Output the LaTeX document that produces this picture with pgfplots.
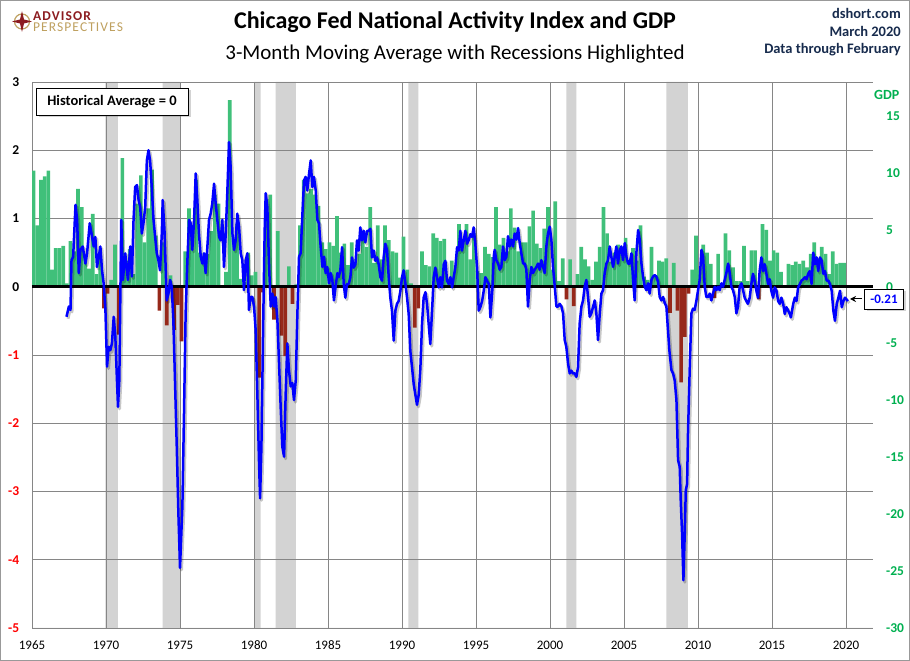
\documentclass[border=0pt]{standalone}
\usepackage{pgfplots}
\pgfplotsset{compat=1.18}
\usepackage{pgfplotstable}
\usepackage{fontspec}
\setmainfont{Carlito}
\usetikzlibrary{shadows,arrows.meta}

\definecolor{bargreen}{RGB}{64,192,122}
\definecolor{barred}{RGB}{150,40,26}
\definecolor{recgray}{RGB}{211,211,211}
\definecolor{gridgray}{RGB}{134,134,134}
\definecolor{gdptext}{RGB}{0,176,80}
\definecolor{navy}{RGB}{23,43,77}
\definecolor{apred}{RGB}{140,28,32}
\definecolor{apgold}{RGB}{190,160,95}

\pgfplotstableread{
yr q1 q2 q3 q4
1965 10.2 5.4 9.4 9.7
1966 10.2 1.5 3.4 3.4
1967 3.6 0.3 4.0 3.1
1968 8.6 7.0 2.7 1.6
1969 6.4 1.1 2.5 -1.9
1970 -0.6 0.6 3.7 -4.2
1971 11.3 2.3 3.3 1.1
1972 7.3 9.8 3.9 6.9
1973 10.3 4.5 -2.1 3.9
1974 -3.4 1.0 -3.8 -1.6
1975 -4.8 3.1 6.9 5.4
1976 9.4 3.0 2.1 2.9
1977 4.9 8.1 7.3 0.0
1978 1.3 16.4 4.1 5.5
1979 0.7 0.4 3.0 1.0
1980 1.3 -8.0 -0.5 7.7
1981 8.1 -2.9 4.9 -4.3
1982 -6.1 1.8 -1.5 0.2
1983 5.4 9.4 8.2 8.6
1984 8.1 7.1 3.9 3.3
1985 3.9 3.6 6.2 3.0
1986 3.8 1.9 3.9 2.1
1987 2.9 4.5 3.5 7.0
1988 2.1 5.4 2.4 5.4
1989 4.1 3.1 3.0 0.8
1990 4.4 1.5 0.3 -3.6
1991 -1.9 3.1 1.9 1.8
1992 4.7 4.3 4.0 4.2
1993 0.7 2.3 1.9 5.5
1994 4.0 5.5 2.4 4.7
1995 1.4 1.2 3.5 2.9
1996 2.6 7.0 3.7 4.3
1997 3.1 6.9 5.2 3.1
1998 3.9 3.9 5.3 6.7
1999 3.8 3.4 5.1 7.0
2000 1.5 7.5 0.5 2.5
2001 -1.1 2.4 -1.7 1.1
2002 3.5 2.4 1.8 0.6
2003 2.2 3.5 7.0 4.7
2004 2.2 3.0 3.7 3.5
2005 4.3 2.1 3.4 2.3
2006 5.4 0.9 0.6 3.5
2007 0.9 2.3 2.2 2.5
2008 -2.3 2.1 -2.1 -8.4
2009 -4.4 -0.6 1.5 4.5
2010 1.5 3.7 3.0 2.0
2011 -1.0 2.9 -0.1 4.7
2012 3.2 1.7 0.5 0.5
2013 3.6 0.5 3.2 3.2
2014 -1.1 5.5 5.0 2.3
2015 3.2 3.0 1.3 0.1
2016 2.0 1.9 2.2 2.0
2017 2.3 1.7 2.9 3.9
2018 2.5 3.5 2.9 1.1
2019 3.1 2.0 2.1 2.1
}\gdptable

\pgfplotstableread{
x y
1967.33 -0.44
1967.49 -0.29
1967.60 -0.34
1967.67 0.39
1967.78 0.44
1967.94 1.20
1968.05 0.98
1968.16 0.20
1968.27 0.54
1968.43 0.59
1968.61 0.34
1968.72 0.49
1968.90 0.93
1969.06 0.73
1969.17 0.59
1969.28 0.73
1969.39 0.29
1969.51 0.44
1969.62 0.59
1969.73 0.24
1969.84 0.05
1969.96 -0.34
1970.07 -1.17
1970.18 -0.88
1970.29 -0.93
1970.40 -0.83
1970.52 -0.44
1970.63 -0.73
1970.74 -1.37
1970.81 -1.76
1970.90 -1.37
1971.03 0.98
1971.14 0.10
1971.30 0.49
1971.48 0.10
1971.64 0.59
1971.75 0.15
1971.86 0.98
1971.97 1.46
1972.09 1.49
1972.20 1.27
1972.31 1.17
1972.42 0.78
1972.53 0.93
1972.65 1.17
1972.76 1.85
1972.87 2.00
1972.98 1.85
1973.09 1.46
1973.21 0.98
1973.32 0.73
1973.43 0.49
1973.54 0.39
1973.65 0.24
1973.77 0.78
1973.83 1.27
1973.95 0.83
1974.10 -0.20
1974.22 -0.10
1974.33 0.10
1974.44 0.00
1974.55 -0.49
1974.66 -1.37
1974.78 -2.34
1974.89 -3.32
1975.00 -4.12
1975.16 -3.22
1975.27 -1.85
1975.38 -0.39
1975.50 0.39
1975.61 0.98
1975.72 0.93
1975.83 0.54
1975.95 0.98
1976.06 1.66
1976.17 1.27
1976.28 0.78
1976.40 0.44
1976.51 0.34
1976.62 0.49
1976.73 0.20
1976.85 0.59
1976.96 0.98
1977.07 1.07
1977.18 1.22
1977.30 1.51
1977.41 1.22
1977.52 0.98
1977.64 0.73
1977.75 0.68
1977.86 0.98
1977.97 0.29
1978.09 0.78
1978.20 1.41
1978.31 2.12
1978.42 1.76
1978.54 0.78
1978.65 0.54
1978.76 0.68
1978.87 1.07
1978.99 0.88
1979.10 0.49
1979.21 0.39
1979.32 -0.05
1979.44 0.39
1979.55 0.49
1979.66 -0.34
1979.77 -0.15
1979.89 -0.15
1980.00 -0.29
1980.11 -0.63
1980.23 -1.61
1980.34 -2.59
1980.41 -3.10
1980.50 -2.34
1980.63 -0.39
1980.72 0.83
1980.79 1.37
1980.90 1.17
1981.01 0.34
1981.13 -0.29
1981.24 -0.10
1981.35 -0.29
1981.46 -0.15
1981.58 -0.49
1981.69 -1.12
1981.80 -1.76
1981.91 -2.34
1982.03 -2.49
1982.14 -1.56
1982.25 -0.83
1982.36 -1.22
1982.48 -1.46
1982.59 -1.41
1982.70 -1.66
1982.82 -1.37
1982.93 -0.39
1983.04 0.44
1983.15 0.49
1983.27 1.07
1983.38 1.56
1983.49 1.61
1983.60 1.41
1983.72 1.66
1983.83 1.85
1983.94 1.46
1984.05 1.61
1984.17 1.41
1984.28 0.98
1984.39 0.93
1984.50 0.59
1984.62 0.29
1984.73 0.44
1984.84 0.20
1984.95 0.29
1985.07 0.05
1985.18 0.20
1985.29 0.10
1985.40 -0.20
1985.51 0.00
1985.63 0.20
1985.72 0.14
1985.83 0.24
1985.95 0.58
1986.06 0.04
1986.17 -0.16
1986.28 0.04
1986.40 0.04
1986.51 0.14
1986.62 0.43
1986.73 0.28
1986.85 0.33
1986.96 0.68
1987.07 0.53
1987.18 0.87
1987.30 0.68
1987.41 0.82
1987.52 0.65
1987.64 0.82
1987.75 0.82
1987.86 0.85
1987.97 0.43
1988.09 0.53
1988.20 0.38
1988.31 0.43
1988.42 0.33
1988.54 0.14
1988.65 0.09
1988.76 0.43
1988.87 0.63
1988.99 0.53
1989.10 0.14
1989.21 -0.16
1989.32 -0.35
1989.44 -0.79
1989.55 -0.35
1989.66 -0.25
1989.77 -0.21
1989.89 -0.06
1990.00 0.14
1990.11 0.24
1990.23 0.04
1990.34 -0.16
1990.45 -0.40
1990.56 -0.94
1990.68 -1.19
1990.79 -1.43
1990.90 -1.58
1991.01 -1.73
1991.13 -1.58
1991.24 -1.19
1991.35 -0.55
1991.46 -0.16
1991.58 -0.08
1991.69 -0.25
1991.80 -0.55
1991.91 -0.84
1992.03 -0.35
1992.14 0.14
1992.25 0.28
1992.36 0.14
1992.48 -0.01
1992.59 0.14
1992.70 -0.01
1992.82 0.33
1992.93 0.38
1993.04 0.09
1993.15 0.04
1993.27 0.14
1993.38 -0.01
1993.49 0.14
1993.60 0.28
1993.72 0.58
1993.83 0.53
1993.94 0.82
1994.05 0.53
1994.17 0.68
1994.28 0.82
1994.39 0.63
1994.50 0.68
1994.62 0.77
1994.73 0.73
1994.84 0.87
1994.95 0.63
1995.07 0.28
1995.18 -0.35
1995.29 -0.30
1995.41 -0.21
1995.52 -0.06
1995.63 0.14
1995.74 0.09
1995.86 0.04
1995.97 -0.45
1996.10 -0.05
1996.20 0.45
1996.26 0.54
1996.37 0.39
1996.49 0.34
1996.60 0.25
1996.71 0.29
1996.82 0.59
1996.94 0.39
1997.05 0.44
1997.16 0.74
1997.27 0.59
1997.39 0.69
1997.50 0.59
1997.61 0.78
1997.73 0.69
1997.84 0.86
1997.95 0.64
1998.06 0.49
1998.18 0.34
1998.29 0.34
1998.40 0.25
1998.51 -0.29
1998.63 0.10
1998.74 0.29
1998.85 0.20
1998.96 0.25
1999.08 0.29
1999.19 0.34
1999.30 0.25
1999.41 0.39
1999.53 0.29
1999.64 0.20
1999.75 0.59
1999.86 0.78
1999.98 0.88
2000.09 0.69
2000.20 0.29
2000.32 0.00
2000.43 -0.29
2000.54 -0.29
2000.65 -0.25
2000.77 -0.29
2000.88 -0.39
2000.99 -0.78
2001.10 -0.88
2001.22 -1.13
2001.33 -1.27
2001.44 -1.23
2001.55 -1.27
2001.67 -1.27
2001.78 -1.32
2001.89 -1.18
2002.00 -0.54
2002.12 -0.29
2002.23 -0.20
2002.34 0.00
2002.45 0.10
2002.57 -0.15
2002.68 -0.44
2002.79 -0.39
2002.91 -0.29
2003.02 -0.20
2003.13 -0.39
2003.24 -0.78
2003.36 -0.39
2003.47 -0.10
2003.58 -0.05
2003.69 0.20
2003.81 0.34
2003.92 0.39
2004.03 0.59
2004.14 0.44
2004.26 0.29
2004.37 0.44
2004.48 0.59
2004.59 0.34
2004.71 0.54
2004.82 0.59
2004.93 0.39
2005.05 0.64
2005.16 0.44
2005.27 0.34
2005.38 0.34
2005.50 0.49
2005.61 0.10
2005.72 -0.20
2005.83 0.49
2005.95 0.83
2006.06 0.69
2006.17 0.35
2006.28 0.15
2006.40 0.00
2006.51 -0.05
2006.62 0.05
2006.73 -0.10
2006.85 0.10
2006.96 0.15
2007.07 0.17
2007.18 0.15
2007.30 0.07
2007.41 -0.15
2007.52 -0.20
2007.64 -0.15
2007.75 -0.24
2007.86 -0.29
2007.97 -0.64
2008.06 -0.93
2008.20 -1.22
2008.31 -1.27
2008.42 -1.37
2008.54 -1.66
2008.65 -2.54
2008.76 -2.64
2008.83 -3.13
2008.92 -3.62
2009.01 -4.30
2009.10 -3.62
2009.17 -2.98
2009.26 -2.89
2009.32 -2.15
2009.44 -1.17
2009.55 -0.39
2009.66 -0.32
2009.77 -0.34
2009.89 -0.20
2010.00 -0.05
2010.11 0.10
2010.23 0.54
2010.34 0.44
2010.45 0.00
2010.56 -0.15
2010.68 -0.15
2010.79 -0.10
2010.90 -0.20
2011.01 -0.10
2011.13 0.00
2011.24 -0.05
2011.35 0.00
2011.46 -0.05
2011.58 0.05
2011.69 0.00
2011.80 0.10
2011.91 0.20
2012.03 0.34
2012.14 0.20
2012.25 0.00
2012.36 -0.05
2012.48 -0.15
2012.59 -0.39
2012.70 -0.29
2012.81 0.00
2012.93 0.05
2013.04 -0.05
2013.15 -0.16
2013.26 -0.21
2013.37 -0.25
2013.49 -0.16
2013.60 0.04
2013.71 0.19
2013.82 0.09
2013.94 -0.06
2014.05 -0.16
2014.16 0.23
2014.28 0.43
2014.39 0.23
2014.50 0.33
2014.62 0.19
2014.73 0.04
2014.84 0.11
2014.95 -0.06
2015.07 -0.16
2015.18 -0.01
2015.30 -0.06
2015.41 -0.21
2015.52 -0.25
2015.63 -0.16
2015.75 -0.25
2015.86 -0.40
2015.97 -0.30
2016.09 -0.35
2016.20 -0.40
2016.27 -0.45
2016.43 -0.25
2016.54 -0.16
2016.65 -0.21
2016.76 -0.01
2016.88 0.04
2016.99 0.09
2017.10 0.11
2017.22 0.14
2017.33 0.11
2017.44 0.19
2017.55 0.23
2017.67 0.04
2017.78 0.50
2017.90 0.33
2018.01 0.43
2018.12 0.23
2018.24 0.43
2018.35 0.38
2018.46 0.19
2018.57 0.23
2018.69 0.09
2018.80 0.09
2018.91 0.04
2019.03 -0.06
2019.14 -0.35
2019.25 -0.50
2019.37 -0.25
2019.48 -0.16
2019.59 -0.06
2019.71 -0.30
2019.82 -0.21
2019.93 -0.16
2020.12 -0.21
}\cfnai

\pgfplotstableread{
x y
1965.00 0
1969.95 1
1970.80 0
1973.82 1
1975.00 0
1980.00 1
1980.45 0
1981.46 1
1982.82 0
1990.43 1
1991.10 0
2001.10 1
2001.78 0
2007.86 1
2009.32 0
2021.82 0
}\recess

\begin{document}
\begin{tikzpicture}[x=1pt,y=1pt]
\useasboundingbox (0,0) rectangle (910,661);
\draw[gray!80, line width=1pt] (0.5,0.5) rectangle (909.5,660.5);

% recession shading
\begin{axis}[at={(32pt,33pt)}, anchor=south west, width=841pt, height=546pt,
  scale only axis, xmin=1965, xmax=2021.82, ymin=0, ymax=1, hide axis]
\addplot[ybar interval, fill=recgray, draw=none] table[x=x,y=y] {\recess};
\end{axis}

% GDP axis (right) with grid and bars
\begin{axis}[at={(32pt,33pt)}, anchor=south west, width=841pt, height=546pt,
  scale only axis, xmin=1965, xmax=2021.82, ymin=-30, ymax=18,
  axis line style={draw=none}, tick style={draw=none},
  xtick={1965,1970,...,2020}, xticklabels={}, xmajorgrids,
  ytick={-30,-25,...,15},
  yticklabels={-30,-25,-20,-15,-10,-5,0,5,10,15},
  yticklabel pos=right,
  yticklabel style={font=\fontsize{13.5}{15}\selectfont\bfseries, text=gdptext,
    anchor=west, inner sep=0pt, xshift=13pt},
  extra y ticks={-30,-24,-18,-12,-6,0,6,12,18}, extra y tick labels={},
  extra y tick style={grid=major},
  major grid style={gridgray, line width=0.9pt}]
\addplot[ybar, bar width=0.25, bar shift=0pt, fill=bargreen, draw=none,
  y filter/.expression={y<0 ? nan : y}] table[x expr=\thisrow{yr}+0.105, y=q1] {\gdptable};
\addplot[ybar, bar width=0.25, bar shift=0pt, fill=bargreen, draw=none,
  y filter/.expression={y<0 ? nan : y}] table[x expr=\thisrow{yr}+0.355, y=q2] {\gdptable};
\addplot[ybar, bar width=0.25, bar shift=0pt, fill=bargreen, draw=none,
  y filter/.expression={y<0 ? nan : y}] table[x expr=\thisrow{yr}+0.605, y=q3] {\gdptable};
\addplot[ybar, bar width=0.25, bar shift=0pt, fill=bargreen, draw=none,
  y filter/.expression={y<0 ? nan : y}] table[x expr=\thisrow{yr}+0.855, y=q4] {\gdptable};
\addplot[ybar, bar width=0.25, bar shift=0pt, fill=barred, draw=none,
  y filter/.expression={y>0 ? nan : y}] table[x expr=\thisrow{yr}+0.105, y=q1] {\gdptable};
\addplot[ybar, bar width=0.25, bar shift=0pt, fill=barred, draw=none,
  y filter/.expression={y>0 ? nan : y}] table[x expr=\thisrow{yr}+0.355, y=q2] {\gdptable};
\addplot[ybar, bar width=0.25, bar shift=0pt, fill=barred, draw=none,
  y filter/.expression={y>0 ? nan : y}] table[x expr=\thisrow{yr}+0.605, y=q3] {\gdptable};
\addplot[ybar, bar width=0.25, bar shift=0pt, fill=barred, draw=none,
  y filter/.expression={y>0 ? nan : y}] table[x expr=\thisrow{yr}+0.855, y=q4] {\gdptable};
\end{axis}

% CFNAI axis (left)
\begin{axis}[at={(32pt,33pt)}, anchor=south west, width=841pt, height=546pt,
  scale only axis, xmin=1965, xmax=2021.82, ymin=-5, ymax=3,
  axis line style={draw=none}, tick style={draw=none},
  xtick={1965,1970,...,2020},
  xticklabels={1965,1970,1975,1980,1985,1990,1995,2000,2005,2010,2015,2020},
  xticklabel style={font=\fontsize{13}{15}\selectfont, anchor=base, yshift=-21.3pt},
  ytick={-5,-4,...,3},
  yticklabels={{\color{red}-5},{\color{red}-4},{\color{red}-3},{\color{red}-2},{\color{red}-1},0,1,2,3},
  yticklabel style={font=\fontsize{13.5}{15}\selectfont\bfseries, anchor=east,
    inner sep=0pt, xshift=-12.7pt}]
\addplot[black, line width=3pt] coordinates {(1965,0) (2021.82,0)};
\addplot[black, opacity=0.22, line width=3pt, line join=round, xshift=1.5pt, yshift=-2pt] table[x=x,y=y] {\cfnai};
\addplot[blue, line width=2.5pt, line join=round] table[x=x,y=y] {\cfnai};
\end{axis}

% annotations
\node[draw=black, line width=0.8pt, fill=white,
  drop shadow={shadow xshift=2.5pt, shadow yshift=-2.5pt, opacity=0.35},
  minimum width=152pt, minimum height=27pt, inner sep=0pt,
  font=\fontsize{14.5}{16}\selectfont\bfseries] at (112,559.5) {Historical Average = 0};
\node[draw=black, line width=0.8pt, fill=white,
  drop shadow={shadow xshift=2.5pt, shadow yshift=-2.5pt, opacity=0.35},
  minimum width=38.6pt, minimum height=20pt, inner sep=0pt, text=blue,
  font=\fontsize{13}{15}\selectfont\bfseries] at (884,362) {-0.21};
\draw[-{Stealth[length=6pt,width=6pt]}, line width=1pt] (862,362) -- (850,362);

% titles
\node[anchor=base, inner sep=0pt, font=\fontsize{24}{28}\selectfont\bfseries] at (455,632) {Chicago Fed National Activity Index and GDP};
\node[anchor=base, inner sep=0pt, font=\fontsize{21}{25}\selectfont] at (455,601) {3-Month Moving Average with Recessions Highlighted};
\node[anchor=north east, align=right, inner sep=0pt, text=navy, font=\fontsize{14.5}{17.5}\selectfont\bfseries] at (901,652.5) {dshort.com\\March 2020\\Data through February};
\node[anchor=base west, inner sep=0pt, text=gdptext, font=\fontsize{14}{16}\selectfont\bfseries] at (874,561.7) {GDP};

% logo
\draw[apgold, line width=1.2pt] (22,639.5) circle (7.5);
\fill[apred] (22,650) -- (24,641.5) -- (32,639.5) -- (24,637.5) -- (22,629) -- (20,637.5) -- (12,639.5) -- (20,641.5) -- cycle;
\node[anchor=north west, align=left, inner sep=0pt, font=\fontsize{13.5}{10.8}\selectfont\addfontfeatures{LetterSpace=8}] at (33,649.5)
  {{\color{apred}\bfseries ADVISOR}\\{\color{apgold}PERSPECTIVES}};
\end{tikzpicture}
\end{document}
